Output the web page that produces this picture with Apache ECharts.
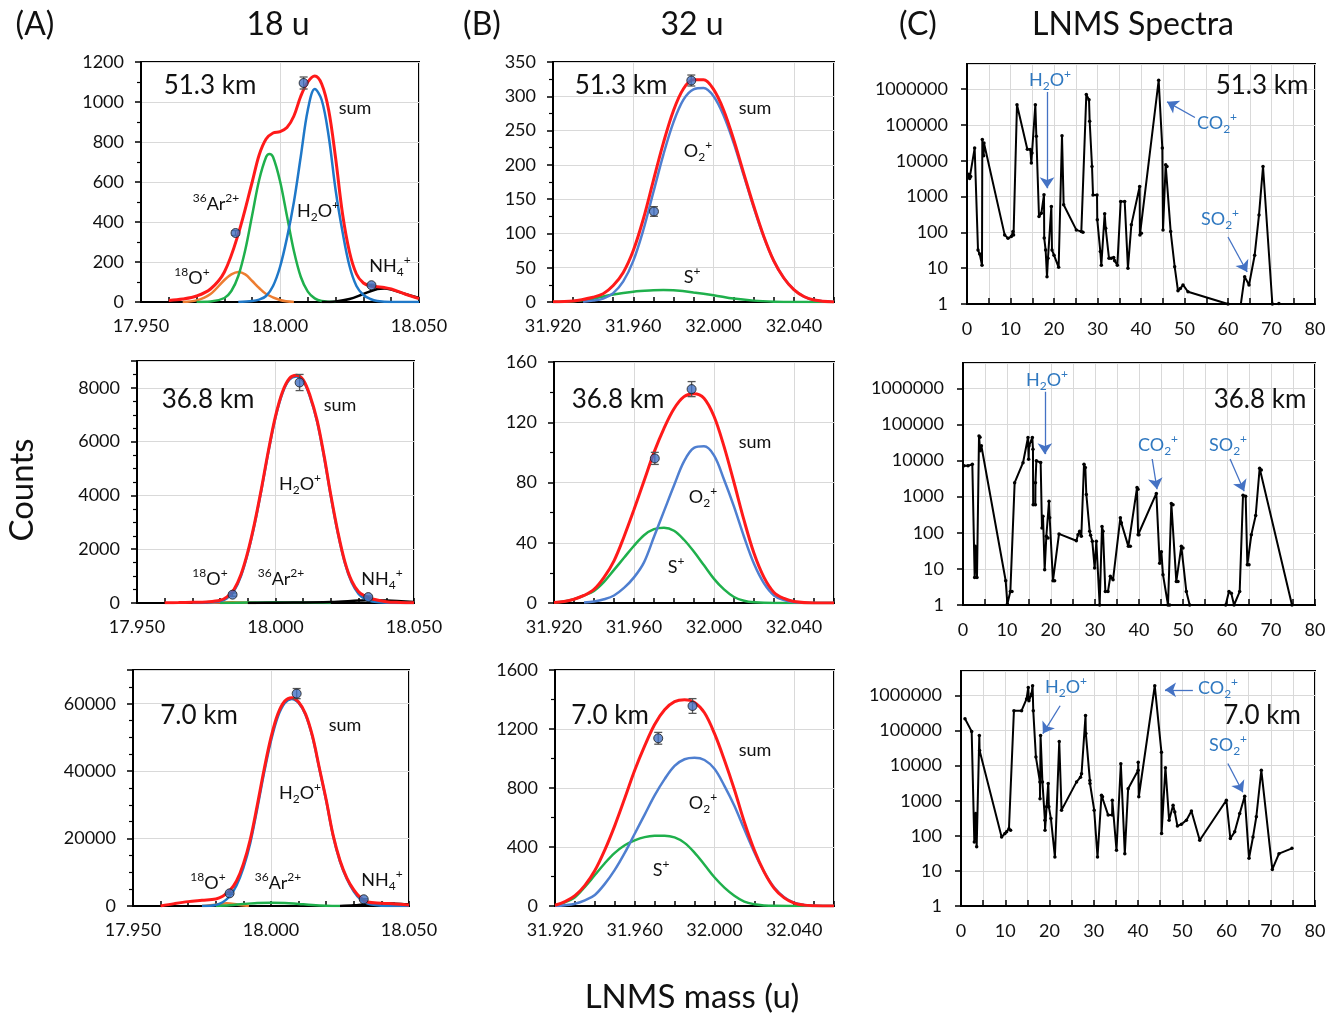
<!DOCTYPE html>
<html>
<head>
<meta charset="utf-8">
<script src="https://cdn.jsdelivr.net/npm/echarts@6/dist/echarts.min.js"></script>
<style>
  html, body { margin: 0; padding: 0; background: #fff; }
  #chart { width: 1338px; height: 1014px; }
</style>
</head>
<body>
<div id="chart"></div>
<script>
// ================= data =================
// Column A: fitted components around 18 u  ([mass, counts])
const a1Sum = [[17.960,8],[17.965,15],[17.970,30],[17.975,65],[17.980,150],[17.985,340],[17.990,600],[17.9925,735],[17.995,815],[17.9975,845],[18.000,852],[18.0025,872],[18.005,930],[18.0075,1030],[18.010,1100],[18.0125,1130],[18.015,1090],[18.0175,960],[18.020,720],[18.0225,440],[18.025,250],[18.0275,140],[18.030,95],[18.0325,80],[18.035,76],[18.0375,72],[18.040,65],[18.045,40],[18.050,17]];
const a1H2O = [[17.985,0],[17.990,5],[17.9925,12],[17.995,30],[17.9975,80],[18.000,175],[18.0025,320],[18.005,500],[18.0075,730],[18.010,960],[18.0125,1065],[18.015,1010],[18.0175,830],[18.020,560],[18.0225,350],[18.025,180],[18.0275,80],[18.030,35],[18.0325,15],[18.035,5],[18.040,0],[18.050,0]];
const a1Ar = [[17.970,0],[17.975,2],[17.980,20],[17.9825,55],[17.985,130],[17.9875,260],[17.990,435],[17.9925,610],[17.995,725],[17.9962,740],[17.9975,725],[18.000,605],[18.0025,430],[18.005,255],[18.0075,125],[18.010,52],[18.0125,18],[18.015,5],[18.020,0]];
const a1O18 = [[17.965,0],[17.970,8],[17.975,40],[17.980,110],[17.9825,138],[17.985,150],[17.9875,138],[17.990,105],[17.9925,70],[17.995,40],[18.000,10],[18.005,0]];
const a1NH4 = [[18.015,0],[18.020,3],[18.025,15],[18.030,40],[18.035,65],[18.0375,68],[18.040,62],[18.045,40],[18.050,20]];
const a1Pts = [[17.984,345,12],[18.0085,1095,30],[18.0329,84,5]];   // [mass, counts, error]

const a2Sum = [[17.960,10],[17.965,15],[17.970,25],[17.975,40],[17.980,100],[17.9825,230],[17.985,500],[17.9875,1050],[17.990,1900],[17.9925,3000],[17.995,4300],[17.9975,5700],[18.000,6950],[18.0025,7850],[18.005,8350],[18.0075,8470],[18.010,8300],[18.0125,7700],[18.015,6800],[18.0175,5500],[18.020,4000],[18.0225,2650],[18.025,1550],[18.0275,820],[18.030,420],[18.0325,250],[18.035,150],[18.040,50],[18.045,20],[18.050,5]];
const a2H2O = [[17.970,0],[17.975,10],[17.980,60],[17.9825,180],[17.985,440],[17.9875,990],[17.990,1850],[17.9925,2950],[17.995,4250],[17.9975,5650],[18.000,6900],[18.0025,7800],[18.005,8300],[18.0075,8420],[18.010,8250],[18.0125,7650],[18.015,6750],[18.0175,5450],[18.020,3950],[18.0225,2600],[18.025,1500],[18.0275,760],[18.030,340],[18.0325,140],[18.035,55],[18.040,10],[18.050,0]];
const a2Ar = [[17.980,0],[17.990,15],[18.000,30],[18.010,15],[18.020,0]];
const a2O18 = [[17.975,0],[17.984,30],[17.993,0]];
const a2NH4 = [[17.990,0],[18.000,10],[18.020,35],[18.030,90],[18.035,110],[18.040,90],[18.050,40]];
const a2Pts = [[17.9845,310,60],[18.0087,8200,300],[18.0335,220,40]];

const a3Sum = [[17.960,0],[17.965,700],[17.970,1300],[17.975,1700],[17.980,2100],[17.9825,2900],[17.985,4500],[17.9875,7400],[17.990,12500],[17.9925,19800],[17.995,29800],[17.9975,40500],[18.000,50000],[18.0025,57000],[18.005,60800],[18.0075,61800],[18.010,60500],[18.0125,57000],[18.015,50500],[18.0175,41000],[18.020,31500],[18.0225,21000],[18.025,13500],[18.0275,8300],[18.030,4800],[18.0325,2400],[18.035,1200],[18.040,850],[18.045,600],[18.050,300]];
const a3H2O = [[17.975,0],[17.980,300],[17.9825,1100],[17.985,2900],[17.9875,6100],[17.990,11300],[17.9925,18700],[17.995,28800],[17.9975,39500],[18.000,49000],[18.0025,56200],[18.005,60200],[18.0075,61400],[18.010,60200],[18.0125,56700],[18.015,50200],[18.0175,40800],[18.020,31200],[18.0225,20800],[18.025,13200],[18.0275,8000],[18.030,4300],[18.0325,1900],[18.035,700],[18.040,100],[18.045,10],[18.050,0]];
const a3Ar = [[17.980,0],[17.985,200],[17.990,600],[17.995,900],[18.000,1000],[18.005,900],[18.010,600],[18.015,300],[18.020,100],[18.025,0]];
const a3O18 = [[17.975,0],[17.980,400],[17.984,800],[17.988,400],[17.992,0]];
const a3NH4 = [[18.025,0],[18.030,200],[18.035,600],[18.040,800],[18.045,700],[18.050,500]];
const a3Pts = [[17.985,3750,300],[18.0093,63000,1500],[18.0336,2000,200]];

// Column B: fitted components around 32 u
const b1Sum = [[31.920,0.5],[31.930,1.5],[31.940,7],[31.945,12],[31.950,24],[31.955,43],[31.960,75],[31.965,121],[31.970,177],[31.975,232],[31.980,279],[31.985,311],[31.990,324],[31.995,324],[32.000,310],[32.005,280],[32.010,237],[32.015,188],[32.020,140],[32.025,96],[32.030,60],[32.035,35],[32.040,18],[32.045,8],[32.050,3],[32.060,0]];
const b1O2 = [[31.935,0.5],[31.940,2],[31.945,5],[31.950,13],[31.955,30],[31.960,60],[31.965,105],[31.970,160],[31.975,215],[31.980,262],[31.985,295],[31.990,310],[31.995,312],[32.000,300],[32.005,272],[32.010,232],[32.015,185],[32.020,138],[32.025,95],[32.030,60],[32.035,35],[32.040,18],[32.045,8],[32.050,3],[32.060,0]];
const b1S = [[31.920,0],[31.930,1],[31.940,5],[31.950,11],[31.960,15],[31.970,17],[31.975,17.5],[31.980,17],[31.990,14],[32.000,10],[32.010,5],[32.020,2],[32.030,0.5],[32.040,0],[32.060,0]];
const b1Pts = [[31.9703,132,7],[31.9889,323,8]];

const b2Sum = [[31.920,0.3],[31.925,1],[31.930,2.5],[31.935,5],[31.940,9],[31.945,17],[31.950,28],[31.955,44],[31.960,62],[31.965,81],[31.970,100],[31.975,116],[31.980,129],[31.985,137],[31.990,139],[31.995,136],[32.000,124],[32.005,104],[32.010,80],[32.015,55],[32.020,33],[32.025,17],[32.030,7],[32.035,3],[32.040,1],[32.050,0],[32.060,0]];
const b2O2 = [[31.935,0.3],[31.940,1],[31.945,2.5],[31.950,5],[31.955,10],[31.960,17],[31.965,27],[31.970,44],[31.975,61],[31.980,78],[31.985,94],[31.990,103],[31.995,104],[32.000,98],[32.005,82],[32.010,64],[32.015,44],[32.020,26],[32.025,13],[32.030,5],[32.035,2],[32.040,0.5],[32.050,0],[32.060,0]];
const b2S = [[31.920,0.3],[31.925,1],[31.930,2.5],[31.935,5],[31.940,8],[31.945,14],[31.950,22],[31.955,30],[31.960,38],[31.965,45],[31.970,49],[31.975,50],[31.980,48],[31.985,42],[31.990,34],[31.995,25],[32.000,16],[32.005,9],[32.010,4],[32.015,1.5],[32.020,0.5],[32.030,0],[32.060,0]];
const b2Pts = [[31.9704,96,4],[31.9888,142,5]];

const b3Sum = [[31.920,5],[31.925,30],[31.930,70],[31.935,140],[31.940,240],[31.945,380],[31.950,545],[31.955,730],[31.960,920],[31.965,1085],[31.970,1230],[31.975,1330],[31.980,1385],[31.985,1398],[31.990,1380],[31.995,1310],[32.000,1170],[32.005,990],[32.010,790],[32.015,570],[32.020,380],[32.025,230],[32.030,120],[32.035,55],[32.040,20],[32.045,6],[32.050,2],[32.060,0]];
const b3O2 = [[31.920,0],[31.925,5],[31.930,15],[31.935,38],[31.940,75],[31.945,150],[31.950,245],[31.955,360],[31.960,490],[31.965,620],[31.970,750],[31.975,860],[31.980,950],[31.985,995],[31.990,1005],[31.995,990],[32.000,930],[32.005,815],[32.010,680],[32.015,520],[32.020,365],[32.025,230],[32.030,125],[32.035,60],[32.040,22],[32.045,7],[32.050,2],[32.060,0]];
const b3S = [[31.920,5],[31.925,25],[31.930,60],[31.935,130],[31.940,210],[31.945,290],[31.950,360],[31.955,412],[31.960,445],[31.965,467],[31.970,476],[31.975,477],[31.980,465],[31.985,428],[31.990,362],[31.995,280],[32.000,195],[32.005,125],[32.010,70],[32.015,30],[32.020,12],[32.025,4],[32.030,1],[32.040,0],[32.060,0]];
const b3Pts = [[31.9718,1137,40],[31.989,1356,50]];

// Column C: LNMS spectra ([mass, counts]); values below 1 fall under the axis
const c1Spec = [[0.23,3630],[0.4,4200],[0.6,3200],[0.84,3600],[1.76,22500],[2.53,32],[2.91,25],[3.45,12],[3.52,39000],[3.83,13700],[3.9,31000],[8.66,85],[9.43,68],[10.19,76],[10.57,105],[10.7,85],[11.49,365000],[13.87,21000],[14.56,20500],[14.79,8600],[14.94,16400],[15.71,365000],[15.94,48000],[16.55,277],[17.09,340],[17.7,1120],[17.75,69],[18.08,32],[18.39,5.8],[18.62,19],[19.39,530],[19.54,32],[20.0,23],[21.07,10.6],[21.84,50000],[22.22,590],[25.13,117],[26.28,105],[26.67,100],[27.43,700000],[28.05,500000],[28.2,126000],[28.74,6900],[28.97,1100],[29.89,1100],[29.95,223],[30.65,29],[30.88,12],[31.65,330],[31.88,130],[32.64,19],[33.18,19],[33.72,20],[33.95,16],[34.56,12],[35.33,725],[36.25,725],[37.0,10],[37.78,162],[39.69,1900],[39.75,85],[40.08,95],[44.06,1750000],[44.9,22500],[45.06,117],[45.67,7700],[45.98,6900],[46.82,105],[47.74,11],[48.5,2.36],[49.04,2.7],[49.66,3.4],[50.8,2.2],[60.0,1],[61.5,0.4],[62.7,0.6],[63.83,5.8],[64.83,3.4],[66.13,23],[67.13,307],[68.05,6900],[70.2,1],[70.8,0.5],[71.7,1.04]];
const c2Spec = [[0.23,7100],[1.14,7100],[2.12,7900],[2.65,5.8],[2.8,42],[2.88,34],[3.18,5.8],[3.64,48000],[3.86,44000],[3.9,18500],[4.17,25600],[9.7,4.7],[10.08,1.07],[10.76,2.35],[11.14,2.35],[11.74,2440],[13.64,8700],[14.77,43500],[14.92,10900],[15.0,25000],[15.76,43500],[15.9,20500],[15.95,600],[16.44,600],[16.47,2440],[16.67,9800],[17.65,8800],[17.95,136],[18.18,288],[18.56,9.4],[18.94,80],[19.32,72],[19.55,750],[19.7,260],[20.45,4.7],[20.83,4.7],[21.82,93],[25.76,60],[26.14,88],[26.52,110],[26.89,80],[27.5,7900],[27.8,6400],[28.03,1150],[28.79,110],[29.0,85],[29.39,58],[29.92,10.5],[30.3,58],[31.06,1],[31.59,150],[31.82,110],[32.35,2.35],[32.95,2.35],[33.48,6.2],[34.1,5],[35.76,260],[35.98,188],[37.58,42],[38.03,42],[39.55,1780],[39.77,1600],[39.8,88],[40.0,88],[43.94,1230],[44.7,14.4],[45.08,30],[45.45,6.9],[46.59,1],[46.97,1],[47.35,645],[47.73,600],[48.48,4.5],[48.86,4.5],[49.62,42],[50.0,38],[50.76,2.35],[51.52,1],[53.0,0.5],[58.0,0.5],[59.7,1],[60.45,2.35],[60.98,2.1],[61.6,1],[62.88,2.35],[63.64,1100],[64.24,1030],[64.62,13],[65.0,13],[65.53,88],[66.52,300],[67.42,6100],[67.8,5500],[74.77,1]];
const c3Spec = [[0.9,217000],[2.41,95000],[3.01,67],[3.31,430],[3.54,49],[4.14,73000],[4.2,27000],[9.18,93],[9.93,117],[10.31,130],[10.84,160],[11.21,145],[11.96,370000],[13.69,370000],[14.82,800000],[15.2,1700000],[15.35,710000],[15.95,1100000],[16.18,1900000],[16.33,370000],[16.93,17600],[17.83,3450],[17.86,1150],[17.98,73000],[18.4,3450],[18.96,280],[18.99,145],[19.34,670],[19.71,3100],[19.86,670],[20.32,310],[21.22,25],[22.2,49000],[22.72,540],[26.11,3450],[27.01,4700],[27.24,5900],[28.14,270000],[28.22,82000],[29.12,3800],[29.15,3100],[30.1,540],[30.85,25],[31.75,1440],[31.98,1300],[33.26,390],[34.16,390],[34.19,1030],[35.14,39],[36.12,11400],[37.02,31],[37.77,2200],[40.03,7400],[40.05,12600],[40.18,1300],[43.79,1900000],[45.3,24000],[45.33,117],[46.2,8800],[47.03,280],[47.93,740],[48.31,480],[48.91,190],[49.81,215],[50.94,280],[52.07,510],[53.95,75],[59.97,1030],[60.87,84],[61.85,130],[62.98,430],[64.11,1340],[65.09,23],[65.99,93],[66.74,350],[67.87,7400],[70.35,11],[71.86,31],[74.79,44]];

// annotation arrows in the spectra: [[fromMass, fromCounts], [toMass, toCounts]]
const c1Arrows = [[[18.4,830000],[18.4,1700]], [[52.4,160000],[46.0,440000]], [[60.0,74],[64.4,7.8]]];
const c2Arrows = [[[18.6,800000],[18.6,15000]], [[43.0,11000],[44.1,1600]], [[60.7,11000],[63.9,1400]]];
const c3Arrows = [[[22.4,510000],[18.5,82000]], [[52.4,1450000],[46.1,1450000]], [[60.3,11500],[63.7,1740]]];

// axis settings
const massTicksA = { min: 17.95, max: 18.05, step: 0.05 };
const massTicksB = { min: 31.92, max: 32.06, step: 0.04 };
const countRange = [ {max:1200, step:200, minor:2}, {max:350, step:50, minor:2},
                     {max:9000, step:2000, minor:4}, {max:160, step:40, minor:2},
                     {max:70000, step:20000, minor:4}, {max:1600, step:400, minor:2} ];

// ================= layout & style =================
const FONT = 'Lato, "Open Sans", "DejaVu Sans", sans-serif';
const INK = '#111';
const RED = '#ff1a1a', BLUE_A = '#1f78c8', BLUE_B = '#4f7fd0', GREEN = '#1fb04c', ORANGE = '#ed7d31';
const ANNO = '#2f78c0';

// grid rectangles: A1 B1 C1 / A2 B2 C2 / A3 B3 C3
const grids = [
  {left:141, top:62,  width:278, height:240}, {left:553, top:62,  width:281, height:240}, {left:967, top:64,  width:348, height:240},
  {left:137, top:361, width:277, height:242}, {left:554, top:362, width:280, height:241}, {left:963, top:363, width:352, height:242},
  {left:133, top:670, width:276, height:236}, {left:555, top:670, width:279, height:236}, {left:961, top:671, width:354, height:235}
];

const tickLabel = { fontSize: 18, color: INK, fontFamily: FONT };
const gridLine = { show: true, lineStyle: { color: '#d9d9d9', width: 1 } };
const plainNumber = v => String(Math.round(v));

const xAxes = [], yAxes = [];
grids.forEach((g, i) => {
  const col = i % 3, row = Math.floor(i / 3);
  if (col < 2) {
    const t = col === 0 ? massTicksA : massTicksB;
    xAxes.push({
      type: 'value', gridIndex: i, min: t.min, max: t.max, interval: t.step,
      axisLabel: Object.assign({ margin: 15, showMaxLabel: col === 0, formatter: v => v.toFixed(3) }, tickLabel),
      axisLine: { show: true, onZero: false, lineStyle: { color: '#000', width: 2 } },
      axisTick: { show: true, inside: true, length: 5, lineStyle: { color: '#000', width: 1.5 } },
      minorTick: { show: true, splitNumber: col === 0 ? 5 : 4, length: 5, lineStyle: { color: '#000', width: 1.5 } },
      splitLine: gridLine
    });
    const c = countRange[row * 2 + col];
    yAxes.push({
      type: 'value', gridIndex: i, min: 0, max: c.max, interval: c.step,
      axisLabel: Object.assign({ margin: 17, showMaxLabel: c.max % c.step === 0, formatter: plainNumber }, tickLabel),
      axisLine: { show: true, lineStyle: { color: '#000', width: 2 } },
      axisTick: { show: true, inside: false, length: 6, lineStyle: { color: '#000', width: 1.5 } },
      minorTick: { show: true, splitNumber: c.minor, length: 4, lineStyle: { color: '#000', width: 1.2 } },
      splitLine: gridLine
    });
  } else {
    xAxes.push({
      type: 'value', gridIndex: i, min: 0, max: 80, interval: 10,
      axisLabel: Object.assign({ margin: 16 }, tickLabel),
      axisLine: { show: true, onZero: false, lineStyle: { color: '#000', width: 2 } },
      axisTick: { show: true, inside: true, length: 6, lineStyle: { color: '#000', width: 1.5 } },
      minorTick: { show: true, splitNumber: 2, length: 6, lineStyle: { color: '#000', width: 1.5 } },
      splitLine: gridLine,
      minorSplitLine: { show: true, lineStyle: { color: '#d9d9d9', width: 1 } }
    });
    yAxes.push({
      type: 'log', logBase: 10, gridIndex: i, min: 1, max: 5000000, interval: 1,
      axisLabel: Object.assign({ margin: 19, showMaxLabel: false, formatter: plainNumber }, tickLabel),
      axisLine: { show: true, lineStyle: { color: '#000', width: 2 } },
      axisTick: { show: true, inside: false, length: 6, lineStyle: { color: '#000', width: 1.5 } },
      splitLine: gridLine
    });
  }
});

// ================= series builders =================
function curve(idx, data, color, width, z) {
  return { type: 'line', xAxisIndex: idx, yAxisIndex: idx, data: data, smooth: 0.35,
           symbol: 'none', showSymbol: false, lineStyle: { color: color, width: width },
           z: z, silent: true, clip: true };
}
function dots(idx, pts) {
  return { type: 'scatter', xAxisIndex: idx, yAxisIndex: idx, data: pts.map(p => [p[0], p[1]]),
           symbol: 'circle', symbolSize: 9, z: 6, silent: true,
           itemStyle: { color: '#4472c4', borderColor: '#1a1a1a', borderWidth: 1 } };
}
function errorBars(idx, pts) {
  return {
    type: 'custom', xAxisIndex: idx, yAxisIndex: idx, z: 5, silent: true, data: pts,
    renderItem: function (params, api) {
      const x = api.value(0), y = api.value(1), e = api.value(2);
      const hi = api.coord([x, y + e]), lo = api.coord([x, y - e]);
      const cap = 4, st = { stroke: '#555', lineWidth: 1.3 };
      return { type: 'group', children: [
        { type: 'line', shape: { x1: hi[0], y1: hi[1], x2: lo[0], y2: lo[1] }, style: st },
        { type: 'line', shape: { x1: hi[0] - cap, y1: hi[1], x2: hi[0] + cap, y2: hi[1] }, style: st },
        { type: 'line', shape: { x1: lo[0] - cap, y1: lo[1], x2: lo[0] + cap, y2: lo[1] }, style: st }
      ]};
    }
  };
}
function spectrum(idx, data, arrows) {
  return {
    type: 'line', xAxisIndex: idx, yAxisIndex: idx, data: data, smooth: false,
    symbol: 'circle', symbolSize: 3.5, showSymbol: true, clip: true, silent: true, z: 3,
    itemStyle: { color: '#000' }, lineStyle: { color: '#000', width: 2 },
    markLine: {
      silent: true, symbol: ['none', 'arrow'], symbolSize: 11, label: { show: false },
      lineStyle: { color: '#4472c4', width: 1.3, type: 'solid' },
      data: arrows.map(a => [{ coord: a[0] }, { coord: a[1] }])
    }
  };
}

const series = [
  // A1 (51.3 km)
  curve(0, a1O18, ORANGE, 2.5, 2), curve(0, a1Ar, GREEN, 2.5, 2), curve(0, a1NH4, '#000', 2.5, 2),
  curve(0, a1H2O, BLUE_A, 2.5, 3), curve(0, a1Sum, RED, 3, 4), dots(0, a1Pts), errorBars(0, a1Pts),
  // B1
  curve(1, b1S, GREEN, 2.5, 2), curve(1, b1O2, BLUE_B, 2.5, 3), curve(1, b1Sum, RED, 3, 4), dots(1, b1Pts), errorBars(1, b1Pts),
  // C1
  spectrum(2, c1Spec, c1Arrows),
  // A2 (36.8 km)
  curve(3, a2O18, ORANGE, 2.5, 2), curve(3, a2Ar, GREEN, 2.5, 2), curve(3, a2NH4, '#000', 2.5, 2),
  curve(3, a2H2O, BLUE_A, 2.5, 3), curve(3, a2Sum, RED, 3, 4), dots(3, a2Pts), errorBars(3, a2Pts),
  // B2
  curve(4, b2S, GREEN, 2.5, 2), curve(4, b2O2, BLUE_B, 2.5, 3), curve(4, b2Sum, RED, 3, 4), dots(4, b2Pts), errorBars(4, b2Pts),
  // C2
  spectrum(5, c2Spec, c2Arrows),
  // A3 (7.0 km)
  curve(6, a3O18, ORANGE, 2.5, 2), curve(6, a3Ar, GREEN, 2.5, 2), curve(6, a3NH4, '#000', 2.5, 2),
  curve(6, a3H2O, BLUE_A, 2.5, 3), curve(6, a3Sum, RED, 3, 4), dots(6, a3Pts), errorBars(6, a3Pts),
  // B3
  curve(7, b3S, GREEN, 2.5, 2), curve(7, b3O2, BLUE_B, 2.5, 3), curve(7, b3Sum, RED, 3, 4), dots(7, b3Pts), errorBars(7, b3Pts),
  // C3
  spectrum(8, c3Spec, c3Arrows)
];

// ================= text =================
function plain(x, y, text, size, color, opts) {
  return Object.assign({ type: 'text', x: x, y: y, z: 100, silent: true,
    style: { text: text, fontSize: size, fontFamily: FONT, fill: color || INK, align: 'center', verticalAlign: 'middle' } }, opts || {});
}
// species label: markup uses ^{..} for superscript and _{..} for subscript
function species(x, y, markup, color, size) {
  color = color || INK; size = size || 18;
  let out = '';
  markup.replace(/\^\{([^}]*)\}|_\{([^}]*)\}|([^^_]+)/g, (m, sup, sub, n) => {
    if (sup !== undefined) out += '{sup|' + sup + '}';
    else if (sub !== undefined) out += '{sub|' + sub + '}';
    else out += '{n|' + n + '}';
    return m;
  });
  const small = Math.round(size * 0.66);
  return { type: 'text', x: x, y: y, z: 100, silent: true,
    style: { text: out, align: 'center', verticalAlign: 'middle', fontFamily: FONT,
      rich: {
        n:   { fontSize: size,  fontFamily: FONT, fill: color, lineHeight: 24, verticalAlign: 'middle' },
        sup: { fontSize: small, fontFamily: FONT, fill: color, lineHeight: small + 2, verticalAlign: 'top' },
        sub: { fontSize: small, fontFamily: FONT, fill: color, lineHeight: small + 2, verticalAlign: 'bottom' }
      } } };
}

const graphics = [
  plain(35, 25, '(A)', 32), plain(278, 25, '18 u', 32),
  plain(482, 25, '(B)', 32), plain(692, 25, '32 u', 32),
  plain(918, 25, '(C)', 32), plain(1133, 25, 'LNMS Spectra', 32),
  plain(22, 490, 'Counts', 33, INK, { rotation: Math.PI / 2 }),
  plain(692, 997, 'LNMS mass (u)', 33),

  // A1
  plain(210, 86, '51.3 km', 26), plain(355, 108, 'sum', 18),
  species(216, 204, '^{36}Ar^{2+}'), species(318, 211, 'H_{2}O^{+}'),
  species(192, 278, '^{18}O^{+}'), species(390, 266, 'NH_{4}^{+}'),
  // B1
  plain(621, 86, '51.3 km', 26), plain(755, 108, 'sum', 18),
  species(698, 151, 'O_{2}^{+}'), species(692, 277, 'S^{+}'),
  // C1
  species(1050, 80, 'H_{2}O^{+}', ANNO), species(1217, 123, 'CO_{2}^{+}', ANNO),
  species(1220, 219, 'SO_{2}^{+}', ANNO), plain(1262, 86, '51.3 km', 26),

  // A2
  plain(208, 400, '36.8 km', 26), plain(340, 405, 'sum', 18),
  species(300, 484, 'H_{2}O^{+}'), species(210, 579, '^{18}O^{+}'),
  species(281, 579, '^{36}Ar^{2+}'), species(382, 579, 'NH_{4}^{+}'),
  // B2
  plain(618, 400, '36.8 km', 26), plain(755, 442, 'sum', 18),
  species(703, 497, 'O_{2}^{+}'), species(676, 567, 'S^{+}'),
  // C2
  species(1047, 380, 'H_{2}O^{+}', ANNO), species(1158, 445, 'CO_{2}^{+}', ANNO),
  species(1228, 445, 'SO_{2}^{+}', ANNO), plain(1260, 400, '36.8 km', 26),

  // A3
  plain(199, 716, '7.0 km', 26), plain(345, 725, 'sum', 18),
  species(300, 793, 'H_{2}O^{+}'), species(208, 883, '^{18}O^{+}'),
  species(278, 883, '^{36}Ar^{2+}'), species(382, 880, 'NH_{4}^{+}'),
  // B3
  plain(610, 716, '7.0 km', 26), plain(755, 750, 'sum', 18),
  species(703, 803, 'O_{2}^{+}'), species(661, 870, 'S^{+}'),
  // C3
  species(1066, 687, 'H_{2}O^{+}', ANNO), species(1218, 688, 'CO_{2}^{+}', ANNO),
  species(1228, 745, 'SO_{2}^{+}', ANNO), plain(1262, 716, '7.0 km', 26)
];

const chart = echarts.init(document.getElementById('chart'), null, { renderer: 'canvas' });
chart.setOption({
  backgroundColor: '#fff',
  animation: false,
  textStyle: { fontFamily: FONT },
  grid: grids.map(g => Object.assign({ show: true, borderColor: '#000', borderWidth: 2,
                                       backgroundColor: 'transparent', containLabel: false,
                                       outerBoundsMode: 'none' }, g)),
  xAxis: xAxes,
  yAxis: yAxes,
  series: series,
  graphic: graphics
});
</script>
</body>
</html>
